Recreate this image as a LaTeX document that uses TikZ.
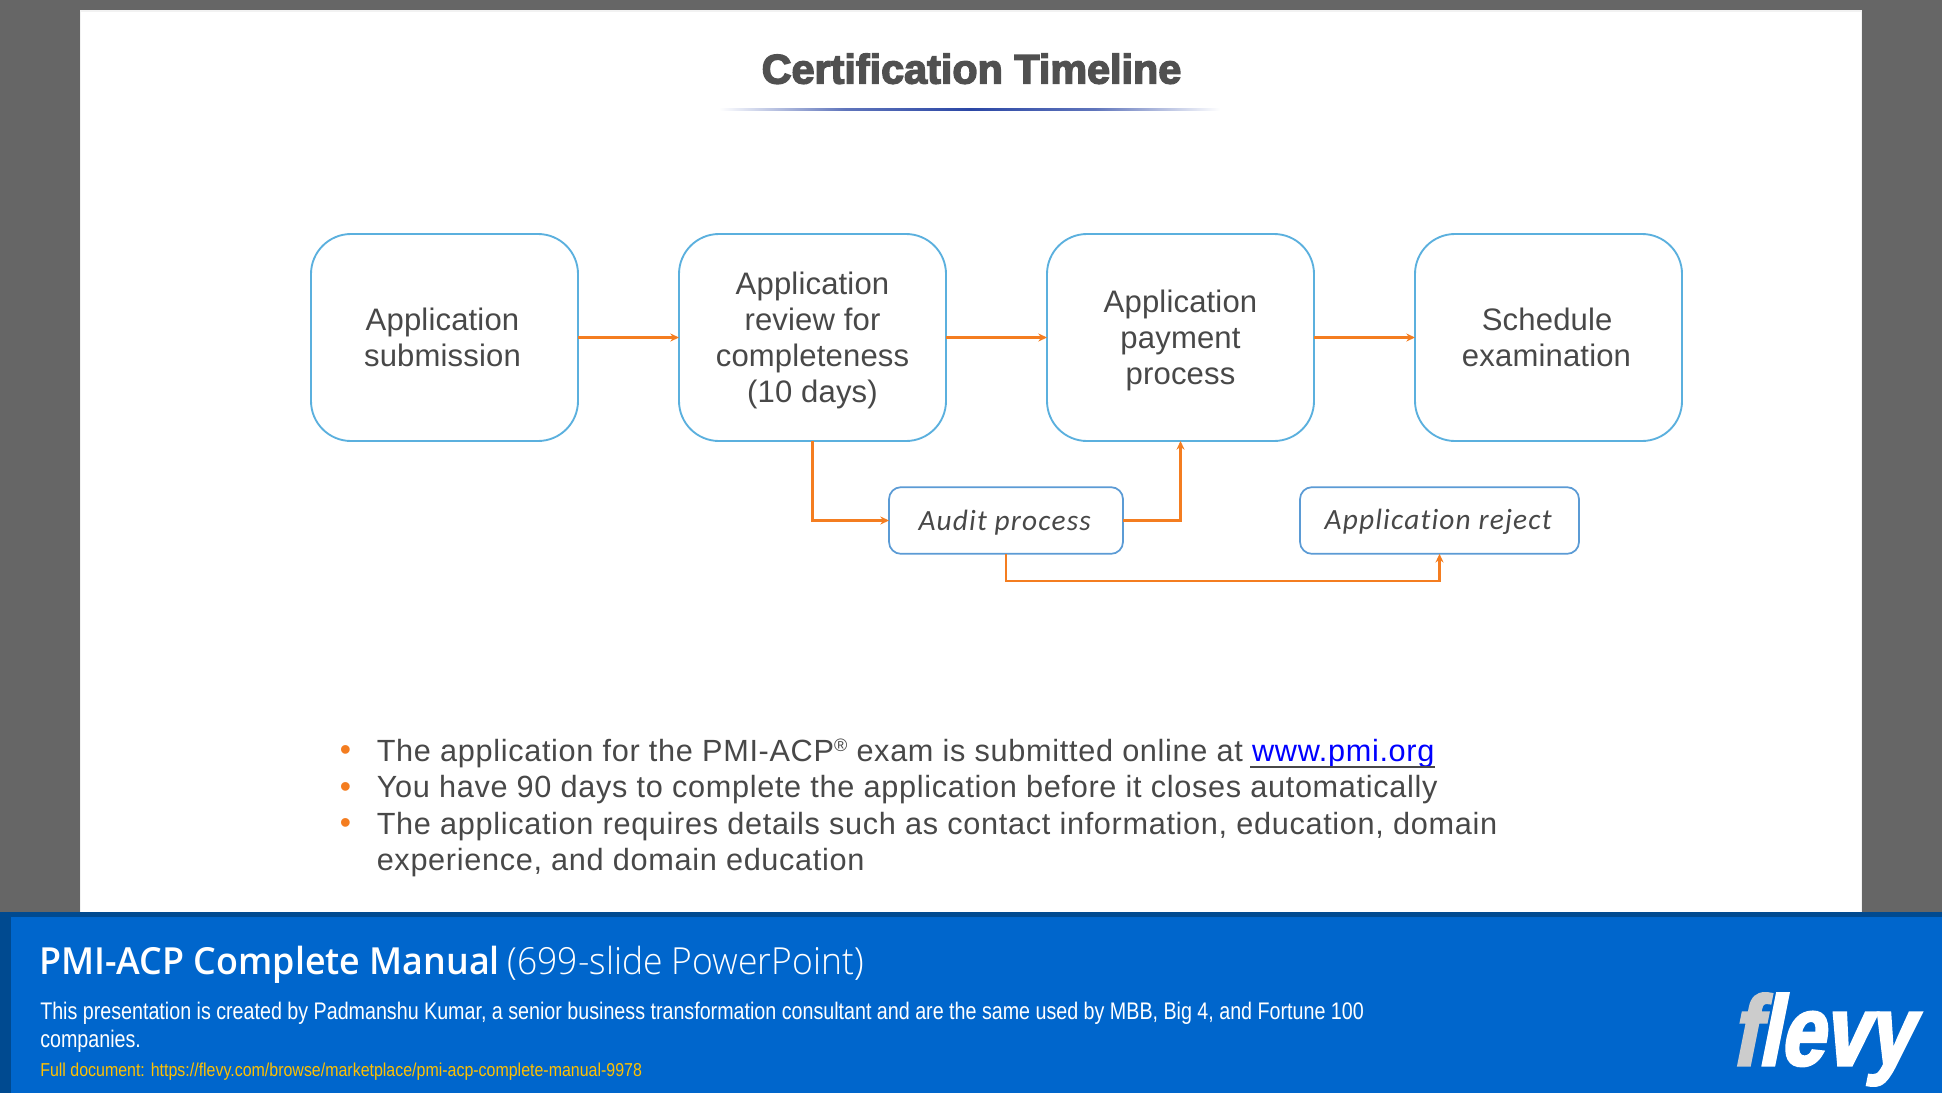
\documentclass[tikz,border=0pt]{standalone}
\usepackage{fontspec}
\usetikzlibrary{arrows.meta,calc}
\setmainfont{Liberation Sans}
\newfontfamily\bodyfont[LetterSpace=2.2]{Liberation Sans}
\newfontfamily\boxfont[LetterSpace=0.5]{Liberation Sans}
\newfontfamily\titlefont[FakeBold=3.5]{Liberation Sans Bold}
\newfontfamily\itfont[LetterSpace=4,Ligatures=NoCommon]{Carlito Italic}
\newfontfamily\foothead[FakeStretch=0.96]{Open Sans Semibold}
\newfontfamily\footlight[FakeStretch=0.95]{Open Sans Light}
\newfontfamily\footbody[FakeStretch=0.82]{Liberation Sans}
\newfontfamily\footlink[FakeStretch=0.855]{Liberation Sans}
\newfontfamily\logofont[FakeBold=3,FakeSlant=0.2,FakeStretch=0.8]{Liberation Sans Bold}
\definecolor{pagegray}{HTML}{666666}
\definecolor{txt}{HTML}{484848}
\definecolor{titletxt}{HTML}{505050}
\definecolor{boxblue}{HTML}{5BB0DE}
\definecolor{smallblue}{HTML}{5B9BD5}
\definecolor{flow}{HTML}{F47D20}
\definecolor{barblue}{HTML}{0066CC}
\definecolor{bardark}{HTML}{004A90}
\definecolor{linkyellow}{HTML}{FFC000}
\definecolor{rulemid}{HTML}{2B47A5}
\definecolor{logogray}{HTML}{CCCCCC}
\tikzset{
  bigbox/.style={draw=boxblue,line width=1.4pt,rounded corners=30pt,minimum width=200.25pt,minimum height=155.25pt,inner sep=0pt,outer sep=0pt,align=center,text=txt,font=\boxfont\fontsize{23.3}{27}\selectfont},
  smallbox/.style={draw=smallblue,line width=1.3pt,rounded corners=9pt,minimum height=50pt,inner sep=0pt,outer sep=0pt,text=txt,font=\itfont\fontsize{22}{27}\selectfont},
  flowline/.style={draw=flow,line width=1.7pt,-{Stealth[length=6.5pt,width=6pt]}},
  bullettext/.style={anchor=base west,inner sep=0pt,text=txt,font=\bodyfont\fontsize{23}{27}\selectfont},
  bulletmark/.style={anchor=base,inner sep=0pt,text=flow,font=\bodyfont\fontsize{24}{27}\selectfont},
  foot/.style={anchor=base west,inner sep=0pt,text=white}
}
\begin{document}
\begin{tikzpicture}[x=0.75pt,y=-0.75pt]
\useasboundingbox (0,0) rectangle (1942,1093);
\fill[pagegray] (0,0) rectangle (1942,1093);
\fill[white!95!black] (80,10) rectangle (1862,912);
\fill[white] (81,12) rectangle (1861,912);
% title
\node[anchor=base,inner sep=0pt,text=titletxt,font=\titlefont\fontsize{31}{31}\selectfont] (title) at (971.5,83.5) {Certification Timeline};
\shade[left color=white,right color=rulemid,middle color=rulemid!75] (719,108) rectangle (970,110.5);
\shade[left color=rulemid,right color=white,middle color=rulemid!75] (970,108) rectangle (1220,110.5);
% big boxes
\node[bigbox] (b1) at (444.5,337.5) {Application\hspace*{3pt}\\submission\hspace*{3pt}};
\node[bigbox] (b2) at (812.5,337.5) {\rule{0pt}{21pt}Application\\review for\\completeness\\(10 days)};
\node[bigbox] (b3) at (1180.5,337.5) {\rule{0pt}{21pt}Application\\payment\\process};
\node[bigbox] (b4) at (1548.5,337.5) {Schedule\hspace*{2pt}\\examination\hspace*{3pt}};
% small boxes
\node[smallbox,minimum width=175.5pt] (audit) at (1006,520.5) {\rule{0pt}{18pt}Audit process\hspace*{2pt}};
\node[smallbox,minimum width=209.25pt] (reject) at (1439.5,520.5) {\rule{0pt}{18pt}Application reject\hspace*{2pt}};
% connectors
\draw[flowline] (b1.east) -- (b2.west);
\draw[flowline] (b2.east) -- (b3.west);
\draw[flowline] (b3.east) -- (b4.west);
\draw[flowline] (b2.south) |- (audit.west);
\draw[flowline] (audit.east) -| (b3.south);
\draw[flowline] (audit.south) -- ++(0,27) -| (reject.south);
% bullets
\node[bulletmark] (m1) at (345.5,760.5) {•};
\node[bulletmark] (m2) at (345.5,797) {•};
\node[bulletmark] (m3) at (345.5,833.5) {•};
\node[bullettext] (l1) at (376.5,761) {The application for the PMI-ACP\raisebox{7pt}{\fontsize{13.5}{14}\selectfont®} exam is submitted online at \textcolor{blue}{www.pmi.org}};
\draw[txt,line width=1.5pt] ($(l1.base east)+(-184.5,6)$) -- ($(l1.base east)+(0,6)$);
\node[bullettext] (l2) at (376.5,797) {You have 90 days to complete the application before it closes automatically};
\node[bullettext] (l3) at (376.5,834) {The application requires details such as contact information, education, domain};
\node[bullettext] (l4) at (376.5,870) {experience, and domain education};
% footer
\fill[bardark] (0,912) rectangle (1942,1093);
\fill[barblue] (11,917) rectangle (1942,1093);
\node[foot,font=\fontsize{28}{28}\selectfont] (ft) at (39,974) {{\foothead PMI-ACP Complete Manual} \hspace{-1.9pt}{\footlight (699-slide PowerPoint)}};
\node[foot,font=\footbody\fontsize{18}{18}\selectfont] (fb1) at (40,1019) {This presentation is created by Padmanshu Kumar, a senior business transformation consultant and are the same used by MBB, Big 4, and Fortune 100};
\node[foot,font=\footbody\fontsize{18}{18}\selectfont] (fb2) at (40,1047) {companies.};
\node[foot,text=linkyellow,font=\footlink\fontsize{14}{14}\selectfont] (fl) at (40,1076) {Full document: https://flevy.com/browse/marketplace/pmi-acp-complete-manual-9978};
\node[foot,font=\logofont\fontsize{74}{74}\selectfont] (logo) at (1731,1065) {\textcolor{logogray}{f}levy};
\end{tikzpicture}
\end{document}
